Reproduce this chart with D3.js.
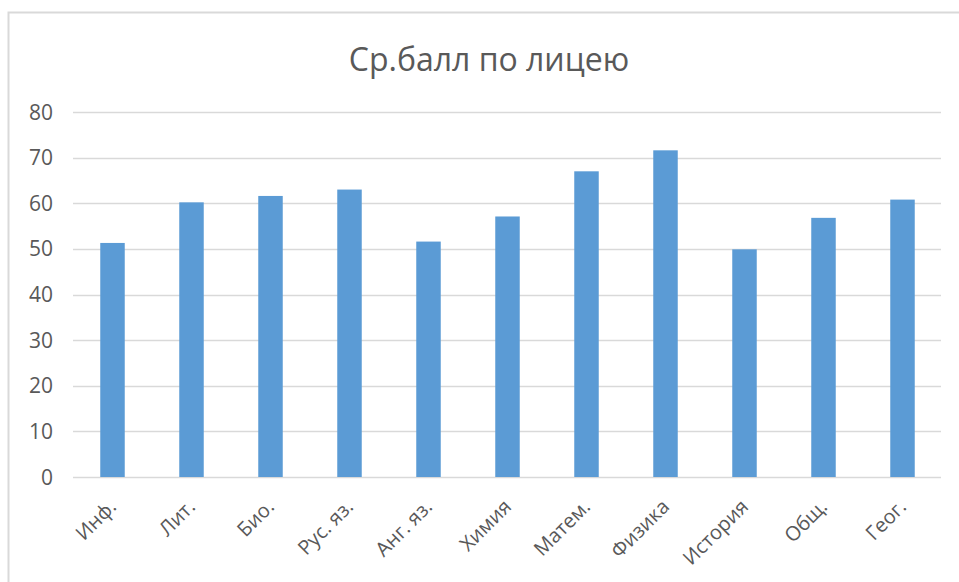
<!DOCTYPE html>
<html>
<head>
<meta charset="utf-8">
<script src="https://cdn.jsdelivr.net/npm/d3@7"></script>
<style>
  html, body { margin: 0; padding: 0; background: #fff; }
  svg { display: block; }
</style>
</head>
<body>
<svg id="chart" width="959" height="582"></svg>
<script>
const title = "Ср.балл по лицею";
const categories = ["Инф.", "Лит.", "Био.", "Рус. яз.", "Анг. яз.", "Химия", "Матем.", "Физика", "История", "Общ.", "Геог."];
const values = [51.3, 60.2, 61.6, 63.0, 51.6, 57.1, 67.0, 71.6, 49.9, 56.8, 60.8];
const yTicks = [0, 10, 20, 30, 40, 50, 60, 70, 80];

const svg = d3.select("#chart");
const font = "'Open Sans', 'Noto Sans', sans-serif";
const textColor = "#595959";

// chart border
svg.append("rect")
  .attr("x", 8.5).attr("y", 12.5)
  .attr("width", 970).attr("height", 580)
  .attr("fill", "none").attr("stroke", "#d9d9d9").attr("stroke-width", 2);

const margin = { left: 73, right: 942, top: 112, bottom: 477 };

const x = d3.scaleBand().domain(categories).range([margin.left, margin.right]).paddingInner(0.69).paddingOuter(0.345);
const y = d3.scaleLinear().domain([0, 80]).range([margin.bottom, margin.top]);

// gridlines
svg.append("g").selectAll("line").data(yTicks).join("line")
  .attr("x1", margin.left).attr("x2", margin.right - 1)
  .attr("y1", d => Math.round(y(d)) + 0.5).attr("y2", d => Math.round(y(d)) + 0.5)
  .attr("stroke", "#d9d9d9").attr("stroke-width", 1.5);

// y labels
svg.append("g").selectAll("text").data(yTicks).join("text")
  .attr("x", 53).attr("y", d => y(d))
  .attr("dy", "0.36em")
  .attr("text-anchor", "end")
  .attr("font-family", font).attr("font-size", 21)
  .attr("fill", textColor)
  .text(d => d);

// bars
svg.append("g").selectAll("rect").data(values).join("rect")
  .attr("x", (d, i) => x(categories[i]))
  .attr("width", x.bandwidth())
  .attr("y", d => y(d))
  .attr("height", d => y(0) - y(d))
  .attr("fill", "#5b9bd5");

// x labels
svg.append("g").selectAll("text").data(categories).join("text")
  .attr("transform", d => `translate(${x(d) + x.bandwidth() / 2 + 5},${y(0) + 31}) rotate(-45)`)
  .attr("text-anchor", "end")
  .attr("font-family", font).attr("font-size", 20)
  .attr("fill", textColor)
  .text(d => d);

// title
svg.append("text")
  .attr("x", 489).attr("y", 71)
  .attr("text-anchor", "middle")
  .attr("font-family", font).attr("font-size", 32)
  .attr("fill", textColor)
  .text(title);
</script>
</body>
</html>
